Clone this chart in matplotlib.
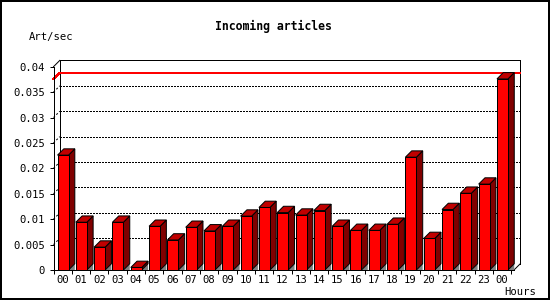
import matplotlib
matplotlib.use("Agg")
import matplotlib.pyplot as plt
from matplotlib.patches import Polygon, Rectangle

# values
hours = ['00', '01', '02', '03', '04', '05', '06', '07', '08', '09', '10', '11',
         '12', '13', '14', '15', '16', '17', '18', '19', '20', '21', '22', '23', '00']
rates = [0.0226, 0.0094, 0.0045, 0.0094, 0.0005, 0.0086, 0.0059, 0.0084,
         0.0077, 0.0086, 0.0106, 0.0123, 0.0113, 0.0108, 0.0117, 0.0086,
         0.0078, 0.0078, 0.0090, 0.0222, 0.0062, 0.0119, 0.0151, 0.0169, 0.0376]
y_ticks = [0, 0.005, 0.01, 0.015, 0.02, 0.025, 0.03, 0.035, 0.04]
y_labels = ['0', '0.005', '0.01', '0.015', '0.02', '0.025', '0.03', '0.035', '0.04']

W, H = 550, 300
PX = 0.72  # one pixel in points
MONO = 'DejaVu Sans Mono'
FRONT = '#ff0000'
SIDE = '#800000'
TOP = '#c00000'
SHADOW = '#808080'

fig = plt.figure(figsize=(W / 100, H / 100), dpi=100)
XMAX = 25.15
ax_w, ax_h = 460.5, 203.3
ax = fig.add_axes([53.5 / W, 30 / H, ax_w / W, ax_h / H])
ax.set_xlim(0, XMAX)
ax.set_ylim(0, 0.04)

# depth of the fake 3d in data units
DEPTH = 6.3
dx = DEPTH * XMAX / ax_w
dy = DEPTH * 0.04 / ax_h
xb = XMAX + dx  # back right edge

# back wall
ax.plot([dx, dx, xb, xb], [dy, 0.04 + dy, 0.04 + dy, dy], color='black',
        lw=PX, clip_on=False, zorder=1, antialiased=False)
ax.plot([XMAX, xb], [0, dy], color='black', lw=PX, clip_on=False, zorder=1)
ax.plot([0, dx], [0.04, 0.04 + dy], color='black', lw=PX, clip_on=False, zorder=1)
for v in y_ticks[1:-1]:
    ax.plot([dx, xb], [v + dy, v + dy], color='black', lw=PX,
            linestyle=(0, (2, 2)), clip_on=False, zorder=1, antialiased=False)
    ax.plot([0, dx], [v, v + dy], color='black', lw=PX,
            linestyle=(0, (2, 2)), clip_on=False, zorder=1)

# maximum line
m = max(rates)
ax.plot([0, dx, xb], [m, m + dy, m + dy], color='red', lw=PX,
        clip_on=False, zorder=1.5, antialiased=False)

# bars
off, bw = 0.22, 0.6
for i, v in enumerate(rates):
    x0 = i + off
    x1 = x0 + bw
    ax.add_patch(Polygon([(x1, 0), (x1 + dx, dy), (x1 + dx, 0)], closed=True,
                         facecolor=SHADOW, edgecolor='none', zorder=2, clip_on=False))
    ax.add_patch(Polygon([(x1, 0), (x1 + dx, dy), (x1 + dx, v + dy), (x1, v)], closed=True,
                         facecolor=SIDE, edgecolor='black', lw=PX, zorder=3,
                         clip_on=False, joinstyle='miter'))
    ax.add_patch(Polygon([(x0, v), (x0 + dx, v + dy), (x1 + dx, v + dy), (x1, v)], closed=True,
                         facecolor=TOP, edgecolor='black', lw=PX, zorder=3,
                         clip_on=False, joinstyle='miter'))
ax.bar([i + off for i in range(len(rates))], rates, width=bw, align='edge',
       color=FRONT, edgecolor='black', linewidth=PX, zorder=4, clip_on=False)

# front axes
for s in ['top', 'right']:
    ax.spines[s].set_visible(False)
for s in ['left', 'bottom']:
    ax.spines[s].set_linewidth(PX)
    ax.spines[s].set_zorder(5)
ax.set_yticks(y_ticks)
ax.set_yticklabels(y_labels, fontfamily=MONO, fontsize=7.6)
ax.set_xticks(range(len(hours) + 1))
ax.set_xticklabels([])
ax.set_xticks([i + 0.5 for i in range(len(hours))], minor=True)
ax.set_xticklabels(hours, minor=True, fontfamily=MONO, fontsize=7.6)
ax.tick_params(axis='both', which='major', length=4 * PX, width=PX, pad=3.2)
ax.tick_params(axis='x', which='minor', length=0, pad=3.5)

fig.text(273.5 / W, 1 - 26.7 / H, 'Incoming articles', ha='center', va='center',
         fontfamily=MONO, fontweight='bold', fontsize=8.3)
fig.text(29 / W, 1 - 36.7 / H, 'Art/sec', ha='left', va='center',
         fontfamily=MONO, fontsize=7.6)
fig.text(504 / W, 1 - 292.3 / H, 'Hours', ha='left', va='center',
         fontfamily=MONO, fontsize=7.6)

# image frame
fig.add_artist(Rectangle((1 / W, 1 / H), 1 - 2 / W, 1 - 2 / H, transform=fig.transFigure,
                         fill=False, edgecolor='black', lw=2 * PX))

fig.savefig('out.png', dpi=100)
